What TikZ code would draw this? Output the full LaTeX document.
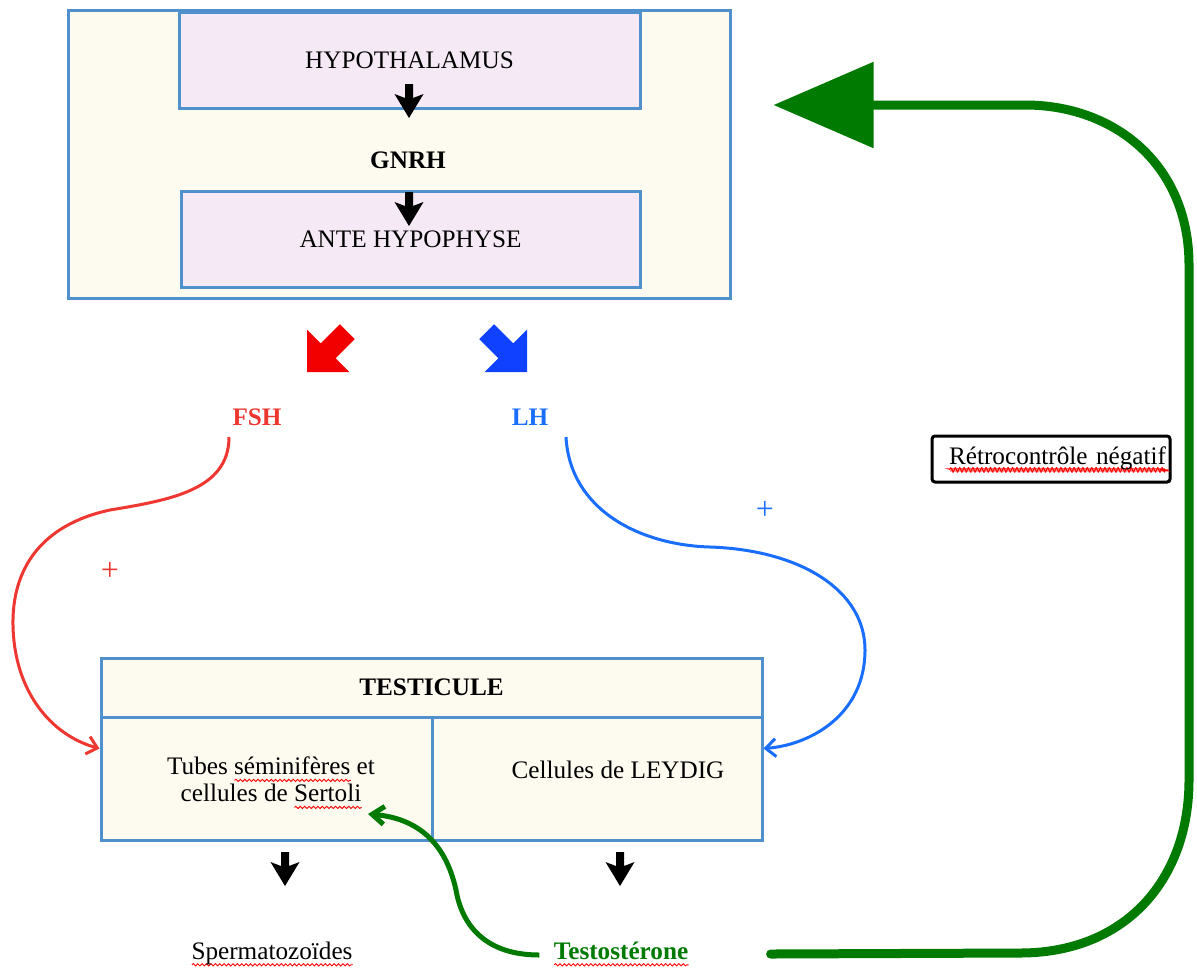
\documentclass[tikz,border=0pt]{standalone}
\usepackage{fontspec}
\setmainfont{Liberation Serif}
\usetikzlibrary{arrows.meta,calc,decorations.pathmorphing,shadows}
\definecolor{boxblue}{RGB}{80,145,205}
\definecolor{cream}{RGB}{253,250,240}
\definecolor{lav}{RGB}{246,233,246}
\definecolor{fshred}{RGB}{238,55,48}
\definecolor{arrred}{RGB}{242,0,0}
\definecolor{lhblue}{RGB}{25,110,255}
\definecolor{arrblue}{RGB}{15,65,255}
\definecolor{dgreen}{RGB}{0,122,0}
\newcommand\dfont{\fontsize{12.6pt}{13.5pt}\selectfont}
\newcommand\pfont{\fontsize{16pt}{16pt}\selectfont}
\newbox\swbox
\newcommand\sw[1]{\setbox\swbox\hbox{#1}\leavevmode\rlap{\tikz[baseline=0pt]\draw[red, line width=0.45pt, decorate, decoration={snake, amplitude=0.55pt, segment length=2.2pt}] (0pt,-2.8pt) -- (\the\wd\swbox,-2.8pt);}\box\swbox}
\newcommand\blockdown[1]{\fill[black, shift={#1}, rotate=-90] (0,0) -- (-24,14.5) -- (-20,4) -- (-34,4) -- (-34,-4) -- (-20,-4) -- (-24,-14.5) -- cycle;}
\newcommand\cornerarrow[3]{\fill[#1, shift={#2}, rotate=#3] (0,0) -- (-30,30) -- (-30,10.5) -- (-57,10.5) -- (-57,-10.5) -- (-30,-10.5) -- (-30,-30) -- cycle;}
\tikzset{
  panel/.style={draw=boxblue, line width=1.5pt, fill=cream, inner sep=0pt,
    drop shadow={opacity=0.18, shadow xshift=0.8pt, shadow yshift=-0.8pt}},
  lavbox/.style={panel, fill=lav},
  label/.style={inner sep=1pt, align=center},
  link/.style={line width=1.5pt},
  barb/.style={-{Straight Barb[length=5pt,width=9pt]}},
}
\begin{document}
\begin{tikzpicture}[x=0.5pt,y=-0.5pt, every node/.style={font=\dfont}]
\useasboundingbox (0,0) rectangle (1197,970);
% upper panel
\node[panel, minimum width=331pt, minimum height=144pt] (axis) at (399,154) {};
\node[lavbox, minimum width=230.5pt, minimum height=48pt] (hypo) at (409.5,60) {HYPOTHALAMUS};
\node[label, font=\dfont\bfseries] (gnrh) at (408,160) {GNRH};
\node[lavbox, minimum width=229.5pt, minimum height=48pt] (ante) at (410.5,239) {ANTE HYPOPHYSE};
\blockdown{(409,118)}
\blockdown{(409,226)}
% hormones
\cornerarrow{arrred}{(307,372)}{225}
\cornerarrow{arrblue}{(527,372)}{-45}
\node[label, text=fshred, font=\dfont\bfseries] (fsh) at (257,417) {FSH};
\node[label, text=lhblue, font=\dfont\bfseries] (lh) at (530,417) {LH};
\node[label, text=fshred, font=\pfont] (plusf) at (110,571) {+};
\node[label, text=lhblue, font=\pfont] (plusl) at (765,510) {+};
% testicule
\node[panel, minimum width=330.5pt, minimum height=29.5pt, font=\dfont\bfseries] (testis) at (431.5,687.5) {TESTICULE};
\node[panel, minimum width=165.5pt, minimum height=61.5pt] (tubes) at (266.5,778.5) {};
\node[panel, minimum width=165pt, minimum height=61.5pt] (leydig) at (597,778.5) {};
\node[label] (tubestxt) at (271,783) {Tubes \sw{séminifères} et\\cellules de \sw{Sertoli}};
\node[label] (leydigtxt) at (618,770) {Cellules de LEYDIG};
\blockdown{(285,886)}
\blockdown{(620,886)}
\node[label] (sperm) at (272,954) {\sw{Spermatozoïdes}};
\node[label, text=dgreen, font=\dfont\bfseries] (testo) at (621,954) {\sw{Testostérone}};
% feedback label
\node[draw=black, line width=1.5pt, rounded corners=1.5pt, fill=white, text width=115pt, align=right, inner xsep=2pt, inner ysep=0pt, minimum height=23pt,
  drop shadow={opacity=0.25, shadow xshift=0.8pt, shadow yshift=-0.8pt}] (retro) at (1051,459) {\sw{Rétrocontrôle négatif}};
% connector ends
\coordinate (fshfoot) at ($(fsh)+(-28,20)$);
\coordinate (lhfoot) at ($(lh)+(36,20)$);
\coordinate (sertolitip) at (368,814);
\coordinate (testofoot) at ($(testo.west)+(-12,1)$);
\coordinate (testoright) at ($(testo.east)+(80,0)$);
\coordinate (fbtip) at ($(axis.east)+(42,-49)$);
% connectors
\draw[link, draw=fshred, barb] (fshfoot) .. controls (229,490) and (170,500) .. (110,510)
  .. controls (40,525) and (12,570) .. (13,625)
  .. controls (14,690) and (50,735) .. ($(tubes.north west)+(0,33)$);
\draw[link, draw=lhblue, barb] (lhfoot) .. controls (570,510) and (640,545) .. (710,547)
  .. controls (800,550) and (865,590) .. (865,650)
  .. controls (865,715) and (810,745) .. ($(leydig.north east)+(0,33)$);
\draw[line width=2.5pt, dgreen, -{Straight Barb[length=6pt,width=9pt]}] (testofoot)
  .. controls (485,955) and (462,925) .. (456,890)
  .. controls (445,840) and (415,818) .. (sertolitip);
\draw[line width=4.5pt, dgreen, line cap=round, -{Triangle[length=50pt,width=42pt]}] (testoright)
  -- (1020,953) .. controls (1125,953) and (1189,880) .. (1189,780)
  -- (1189,265) .. controls (1189,165) and (1115,105) .. (1025,105) -- (fbtip);
\end{tikzpicture}
\end{document}
